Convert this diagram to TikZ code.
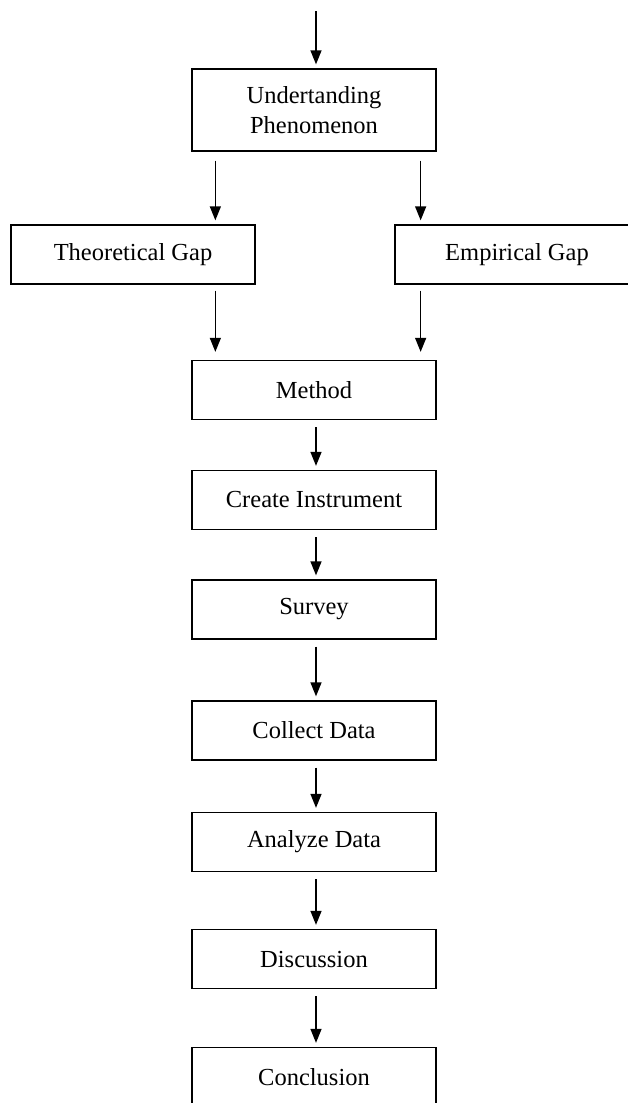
\documentclass[tikz,border=0pt]{standalone}
\usepackage{fontspec}
\setmainfont{Liberation Serif}
\usetikzlibrary{arrows.meta}

\begin{document}
\begin{tikzpicture}[x=1pt,y=-1pt,
    box/.style={draw,line width=1.3pt,minimum width=244pt,minimum height=59pt,inner sep=0pt,
        align=center,font=\fontsize{24.5}{30}\selectfont},
    arr/.style={line width=1.3pt,-{Triangle[width=11pt,length=14pt]},shorten <=7pt,shorten >=4pt}]
    \useasboundingbox (0,0) rectangle (628,1103);
    \clip (0,0) rectangle (628,1103);

    \coordinate (start) at (316,11);
    \node[box,minimum height=82pt] (und) at (314,110) {Undertanding\\Phenomenon};
    \node[box] (theo) at (133,254.5) {Theoretical Gap};
    \node[box] (emp) at (517,254.5) {Empirical Gap};
    \node[box] (meth) at (314,390) {Method};
    \node[box] (inst) at (314,500) {Create Instrument};
    \node[box] (surv) at (314,609.5) {Survey};
    \node[box] (coll) at (314,730.5) {Collect Data};
    \node[box] (anal) at (314,842) {Analyze Data};
    \node[box] (disc) at (314,959) {Discussion};
    \node[box] (concl) at (314,1077) {Conclusion};

    \draw[arr,shorten <=0pt] (start) -- (start |- und.north);
    \draw[arr,shorten <=9pt] ([xshift=24pt]und.south west) -- ([xshift=24pt]und.south west |- theo.north);
    \draw[arr,shorten <=9pt] ([xshift=-16pt]und.south east) -- ([xshift=-16pt]und.south east |- emp.north);
    \draw[arr,shorten <=6pt,shorten >=8pt] ([xshift=24pt]meth.north west |- theo.south) -- ([xshift=24pt]meth.north west);
    \draw[arr,shorten <=6pt,shorten >=8pt] ([xshift=-16pt]meth.north east |- emp.south) -- ([xshift=-16pt]meth.north east);
    \draw[arr] ([xshift=2pt]meth.south) -- ([xshift=2pt]inst.north);
    \draw[arr] ([xshift=2pt]inst.south) -- ([xshift=2pt]surv.north);
    \draw[arr] ([xshift=2pt]surv.south) -- ([xshift=2pt]coll.north);
    \draw[arr] ([xshift=2pt]coll.south) -- ([xshift=2pt]anal.north);
    \draw[arr] ([xshift=2pt]anal.south) -- ([xshift=2pt]disc.north);
    \draw[arr] ([xshift=2pt]disc.south) -- ([xshift=2pt]concl.north);
\end{tikzpicture}
\end{document}
